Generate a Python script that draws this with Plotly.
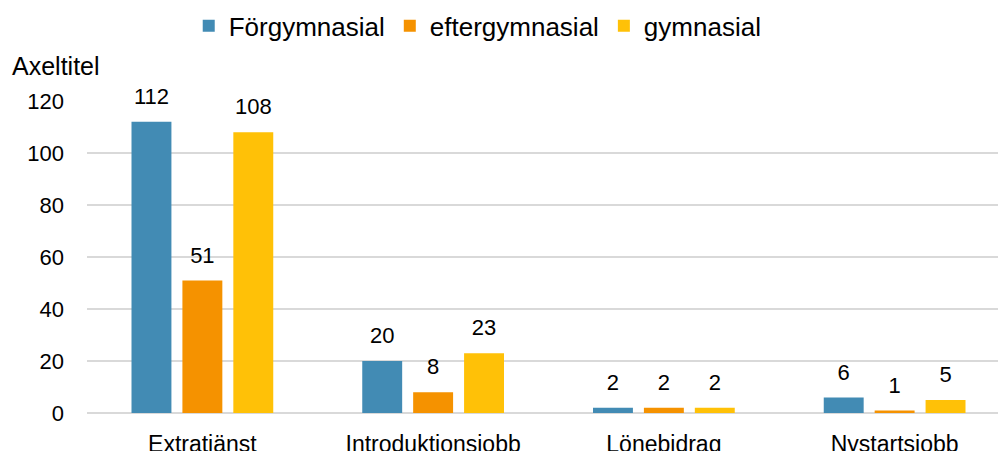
import plotly.graph_objects as go

categories = ["Extratjänst", "Introduktionsjobb", "Lönebidrag", "Nystartsjobb"]
series_names = ["Förgymnasial", "eftergymnasial", "gymnasial"]
forgymnasial = [112, 20, 2, 6]
eftergymnasial = [51, 8, 2, 1]
gymnasial = [108, 23, 2, 5]
colors = ["#428BB4", "#F59200", "#FFC107"]
y_ticks = [0, 20, 40, 60, 80, 100, 120]

FONT = "Liberation Sans, Arial, sans-serif"

fig = go.Figure()
all_series = [forgymnasial, eftergymnasial, gymnasial]
for name, vals, col in zip(series_names, all_series, colors):
    fig.add_trace(go.Bar(
        name=name, x=categories, y=vals, offsetgroup=name,
        marker=dict(color=col, line=dict(width=0)),
    ))
for name, vals in zip(series_names, all_series):
    fig.add_trace(go.Scatter(
        x=categories, y=vals, offsetgroup=name, mode="markers+text",
        text=[str(v) for v in vals], textposition="top center",
        marker=dict(size=18, opacity=0), cliponaxis=False,
        textfont=dict(family=FONT, size=22, color="#000000"),
        showlegend=False, hoverinfo="skip",
    ))

fig.update_layout(
    width=1010, height=451,
    margin=dict(l=87, r=0, t=101, b=38),
    paper_bgcolor="white", plot_bgcolor="white",
    barmode="group", bargap=0.338, bargroupgap=0.216,
    scattermode="group", scattergap=0.338,
    font=dict(family=FONT, color="#000000"),
    showlegend=True,
    legend=dict(orientation="h", x=0.473, xref="container", xanchor="center",
                y=0.995, yref="container", yanchor="top",
                font=dict(size=26, family=FONT), itemsizing="constant",
                traceorder="normal", itemwidth=30, tracegroupgap=0),
    xaxis=dict(showgrid=False, showline=False, ticks="outside", ticklen=10, tickcolor="white",
               tickfont=dict(size=23, family=FONT), automargin=False),
    yaxis=dict(range=[0, 120], tickvals=y_ticks, showgrid=True, gridcolor="#D9D9D9", gridwidth=2,
               zeroline=True, zerolinecolor="#D9D9D9", zerolinewidth=2, showline=False,
               tickfont=dict(size=22, family=FONT), ticklabelstandoff=22, automargin=False),
    annotations=[dict(text="Axeltitel", xref="paper", yref="paper", x=-0.0833, y=1.112,
                      xanchor="left", yanchor="middle", showarrow=False,
                      font=dict(size=25, family=FONT))],
)

fig.write_html("out.html", config={"displayModeBar": False},
               post_script="document.body.style.margin='0';document.body.style.overflow='hidden';")
